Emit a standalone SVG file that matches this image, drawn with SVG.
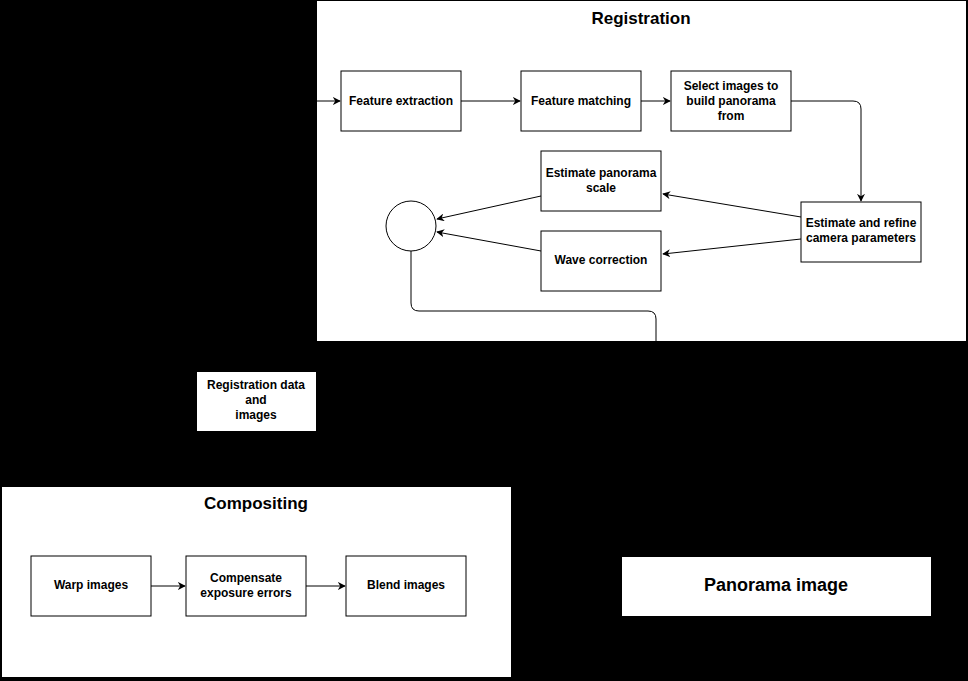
<svg xmlns="http://www.w3.org/2000/svg" width="968" height="681" viewBox="0 0 968 681">
<style>
.panel{fill:#fff;stroke:none}
.node rect{fill:#fff;stroke:#000;stroke-width:1}
.lbl{font-family:"Liberation Sans",Arial,sans-serif;font-weight:bold;font-size:12px;fill:#000;text-anchor:middle}
.title{font-family:"Liberation Sans",Arial,sans-serif;font-weight:bold;font-size:17px;fill:#000;text-anchor:middle}
.edge{fill:none;stroke:#000;stroke-width:1}
</style>
<defs>
<marker id="arr" viewBox="0 0 10 10" refX="9" refY="5" markerWidth="8" markerHeight="8" orient="auto" markerUnits="userSpaceOnUse">
<path d="M0,0 L10,5 L0,10 L3,5 z" fill="#000"/>
</marker>
</defs>
<rect x="0" y="0" width="968" height="681" fill="#000"/>
<g id="registration">
<rect class="panel" x="317" y="1" width="649" height="340"/>
<text class="title" x="641" y="24">Registration</text>
</g>
<g id="compositing">
<rect class="panel" x="2" y="487" width="509" height="190"/>
<text class="title" x="256" y="509">Compositing</text>
</g>
<g id="feature-extraction" class="node"><rect x="341" y="71" width="120" height="60"/><text class="lbl" x="401" y="105">Feature extraction</text></g>
<g id="feature-matching" class="node"><rect x="521" y="71" width="120" height="60"/><text class="lbl" x="581" y="105">Feature matching</text></g>
<g id="select-images" class="node"><rect x="671" y="71" width="120" height="60"/><text class="lbl" x="731" y="90">Select images to</text><text class="lbl" x="731" y="105">build panorama</text><text class="lbl" x="731" y="120">from</text></g>
<g id="estimate-scale" class="node"><rect x="541" y="151" width="120" height="60"/><text class="lbl" x="601" y="177">Estimate panorama</text><text class="lbl" x="601" y="192">scale</text></g>
<g id="wave-correction" class="node"><rect x="541" y="231" width="120" height="60"/><text class="lbl" x="601" y="264">Wave correction</text></g>
<g id="estimate-refine" class="node"><rect x="801" y="202" width="120" height="60"/><text class="lbl" x="861" y="227">Estimate and refine</text><text class="lbl" x="861" y="242">camera parameters</text></g>
<g id="join"><circle cx="411" cy="226" r="25" fill="#fff" stroke="#000"/></g>
<g id="registration-data"><rect class="panel" x="197" y="372" width="119" height="59"/><text class="lbl" x="256" y="389">Registration data</text><text class="lbl" x="256" y="404">and</text><text class="lbl" x="256" y="419">images</text></g>
<g id="warp-images" class="node"><rect x="31" y="556" width="120" height="60"/><text class="lbl" x="91" y="589">Warp images</text></g>
<g id="compensate" class="node"><rect x="186" y="556" width="120" height="60"/><text class="lbl" x="246" y="582">Compensate</text><text class="lbl" x="246" y="597">exposure errors</text></g>
<g id="blend-images" class="node"><rect x="346" y="556" width="120" height="60"/><text class="lbl" x="406" y="589">Blend images</text></g>
<g id="panorama-image"><rect class="panel" x="622" y="557" width="309" height="59"/><text class="lbl" style="font-size:18px" x="776" y="591">Panorama image</text></g>
<g id="connectors">
<path class="edge" d="M317,101 L340,101" marker-end="url(#arr)"/>
<path class="edge" d="M461,101 L520,101" marker-end="url(#arr)"/>
<path class="edge" d="M641,101 L670,101" marker-end="url(#arr)"/>
<path class="edge" d="M791,101 L853,101 Q861,101 861,109 L861,201" marker-end="url(#arr)"/>
<path class="edge" d="M801,217 L663,194" marker-end="url(#arr)"/>
<path class="edge" d="M801,239 L663,254" marker-end="url(#arr)"/>
<path class="edge" d="M541,196 L437,219" marker-end="url(#arr)"/>
<path class="edge" d="M541,251 L437,232" marker-end="url(#arr)"/>
<path class="edge" d="M411,251 L411,303 Q411,311 419,311 L648,311 Q656,311 656,319 L656,341"/>
<path class="edge" d="M151,586 L185,586" marker-end="url(#arr)"/>
<path class="edge" d="M306,586 L345,586" marker-end="url(#arr)"/>
</g>
</svg>
